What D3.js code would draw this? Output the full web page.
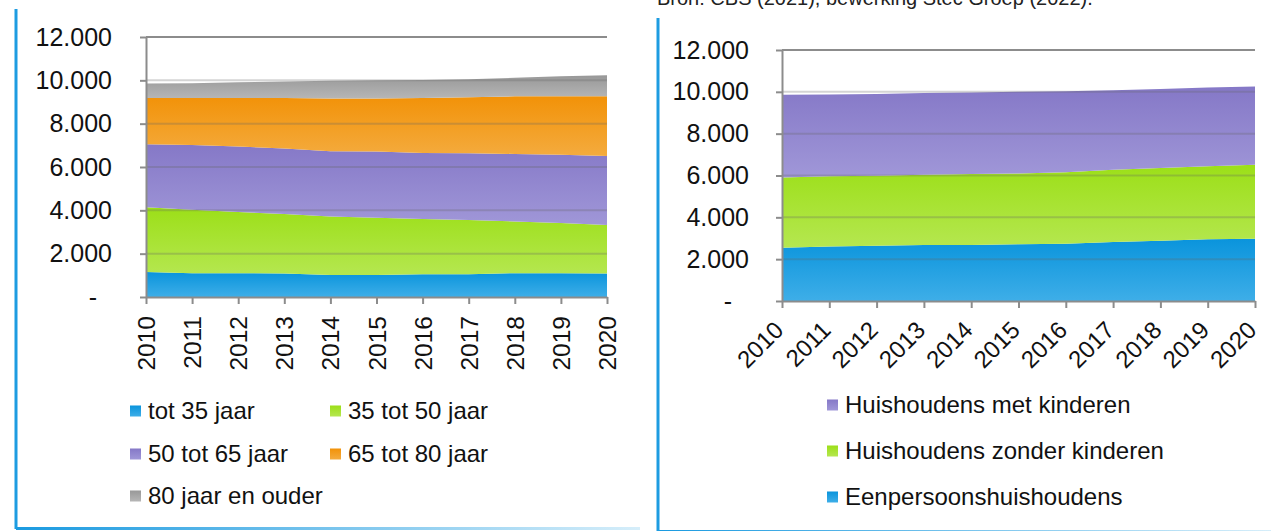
<!DOCTYPE html>
<html><head><meta charset="utf-8">
<script src="https://cdn.jsdelivr.net/npm/d3@7"></script>
<style>
html,body{margin:0;padding:0;background:#fff;}
svg{display:block;font-family:"Liberation Sans",Arial,sans-serif;}
</style></head>
<body>
<svg id="c" width="1271" height="531"></svg>
<script>
// ---- data ----
const years = ["2010","2011","2012","2013","2014","2015","2016","2017","2018","2019","2020"];
const yTicks = [0,2000,4000,6000,8000,10000,12000];
const yTickLabels = ["-","2.000","4.000","6.000","8.000","10.000","12.000"];

// left chart: age groups
const ageNames = ["tot 35 jaar","35 tot 50 jaar","50 tot 65 jaar","65 tot 80 jaar","80 jaar en ouder"];
const age35 = [1150,1100,1100,1080,1010,1010,1050,1050,1100,1100,1090];
const age35_50 = [2990,2930,2820,2750,2710,2650,2550,2500,2390,2310,2230];
const age50_65 = [2910,2990,3030,3020,3010,3050,3050,3090,3110,3150,3190];
const age65_80 = [2140,2160,2240,2330,2430,2450,2530,2580,2660,2710,2760];
const age80 = [660,680,720,770,820,840,840,830,860,920,960];

// right chart: household types
const hhNames = ["Eenpersoonshuishoudens","Huishoudens zonder kinderen","Huishoudens met kinderen"];
const hhSingle = [2550,2600,2640,2680,2680,2710,2740,2820,2880,2950,2980];
const hhNoKids = [3360,3360,3350,3360,3390,3390,3410,3460,3480,3490,3530];
const hhKids = [3950,3910,3910,3900,3900,3900,3880,3800,3780,3770,3740];

const sourceText = "Bron: CBS (2021), bewerking Stec Groep (2022).";

// ---- styles ----
const grads = {
  blue:["#0a94dc","#3eaee8"],
  green:["#9cdf18","#b5e750"],
  purple:["#8578c7","#a097d8"],
  orange:["#f29208","#f4ab3e"],
  gray:["#989898","#b6b6b6"]
};
const svg = d3.select("#c");
const defs = svg.append("defs");
Object.entries(grads).forEach(([k,[a,b]])=>{
  const g = defs.append("linearGradient").attr("id","g_"+k).attr("x1",0).attr("y1",0).attr("x2",0).attr("y2",1);
  g.append("stop").attr("offset","0%").attr("stop-color",a);
  g.append("stop").attr("offset","100%").attr("stop-color",b);
});
function hgrad(id,c1,c2){
  const g = defs.append("linearGradient").attr("id",id).attr("x1",0).attr("y1",0).attr("x2",1).attr("y2",0);
  g.append("stop").attr("offset","0%").attr("stop-color",c1);
  g.append("stop").attr("offset","100%").attr("stop-color",c2);
}
hgrad("bTop","#6cc3ee","#ffffff");
hgrad("bBot","#1a9ae0","#d6eefa");

// panel borders
function panel(x0,y0,x1,y1){
  svg.append("line").attr("x1",x0).attr("x2",x1).attr("y1",y0).attr("y2",y0).attr("stroke","url(#bTop)").attr("stroke-width",2);
  svg.append("rect").attr("x",x0).attr("y",y1-2).attr("width",x1-x0).attr("height",3).attr("fill","url(#bBot)");
  svg.append("line").attr("x1",x0).attr("x2",x0).attr("y1",y0).attr("y2",y1).attr("stroke","#1d9ce1").attr("stroke-width",3);
}
panel(16,9,640,529);
panel(658,18,1271,532);

svg.append("text").attr("x",657).attr("y",5).attr("font-size",20).attr("fill","#222").text(sourceText);

function chart(cfg){
  const x = d3.scalePoint().domain(years).range([cfg.x0,cfg.x1]);
  const y = d3.scaleLinear().domain([0,12000]).range([cfg.y0,cfg.y1]);
  const rows = years.map((yr,i)=>{const o={year:yr}; cfg.series.forEach(s=>o[s.name]=s.values[i]); return o;});
  const stack = d3.stack().keys(cfg.series.map(s=>s.name))(rows);
  const area = d3.area().x(d=>x(d.data.year)).y0(d=>y(d[0])).y1(d=>y(d[1]));
  const g = svg.append("g");
  g.selectAll("path.a").data(stack).join("path").attr("class","a")
    .attr("d",area).attr("fill",(d,i)=>"url(#g_"+cfg.series[i].color+")");
  // gridlines
  g.selectAll("line.gr").data(yTicks.slice(1,-1)).join("line")
    .attr("x1",cfg.x0).attr("x2",cfg.x1).attr("y1",d=>y(d)).attr("y2",d=>y(d))
    .attr("stroke","#666").attr("stroke-opacity",0.28).attr("stroke-width",2);
  g.append("line").attr("x1",cfg.x0).attr("x2",cfg.x1).attr("y1",y(12000)).attr("y2",y(12000))
    .attr("stroke","#8c8c8c").attr("stroke-width",2);
  // y axis
  const ya = d3.axisLeft(y).tickValues(yTicks).tickSize(6).tickSizeOuter(0)
    .tickFormat((d,i)=>yTickLabels[i]);
  const yg = g.append("g").attr("transform",`translate(${cfg.x0},0)`).call(ya);
  yg.select(".domain").attr("stroke","#8c8c8c").attr("stroke-width",2);
  yg.selectAll(".tick line").attr("stroke","#8c8c8c").attr("stroke-width",2);
  yg.selectAll(".tick text").attr("font-size",25).attr("fill","#111")
    .attr("font-family","'Liberation Sans',Arial,sans-serif")
    .attr("x",-cfg.yLabelGap)
    .each(function(d){ if(d===0) d3.select(this).attr("x",-cfg.dashX); });
  // x axis
  const xa = d3.axisBottom(x).tickSize(7).tickSizeOuter(0);
  const xg = g.append("g").attr("transform",`translate(0,${cfg.y0})`).call(xa);
  xg.select(".domain").attr("stroke","#8c8c8c").attr("stroke-width",2);
  xg.selectAll(".tick line").attr("stroke","#8c8c8c").attr("stroke-width",2);
  const xt = xg.selectAll(".tick text").attr("font-size",cfg.xFont).attr("fill","#111")
    .attr("font-family","'Liberation Sans',Arial,sans-serif");
  if(cfg.rot===90){
    xt.attr("transform","rotate(-90)").attr("text-anchor","end").attr("x",-19).attr("y",0).attr("dy","0.35em");
  } else {
    xt.attr("transform","rotate(-45)").attr("text-anchor","end").attr("x",-20).attr("y",15).attr("dy","0.35em");
  }
  // legend
  cfg.legend.forEach(it=>{
    const s = cfg.series.find(q=>q.name===it.name);
    g.append("rect").attr("x",it.x).attr("y",it.y-5.5).attr("width",11).attr("height",11).attr("fill","url(#g_"+s.color+")");
    g.append("text").attr("x",it.x+18).attr("y",it.y).attr("dy","0.35em").attr("font-size",cfg.legFont).attr("fill","#111").text(it.name);
  });
}

chart({
  x0:146,x1:607,y0:297,y1:37,yLabelGap:34,dashX:49,xFont:24.5,rot:90,legFont:24,
  series:[
    {name:ageNames[0],values:age35,color:"blue"},
    {name:ageNames[1],values:age35_50,color:"green"},
    {name:ageNames[2],values:age50_65,color:"purple"},
    {name:ageNames[3],values:age65_80,color:"orange"},
    {name:ageNames[4],values:age80,color:"gray"}
  ],
  legend:[
    {name:ageNames[0],x:130,y:411},{name:ageNames[1],x:330,y:411},
    {name:ageNames[2],x:130,y:454},{name:ageNames[3],x:330,y:454},
    {name:ageNames[4],x:130,y:496}
  ]
});

chart({
  x0:782,x1:1255,y0:301,y1:50,yLabelGap:33,dashX:50,xFont:24,rot:45,legFont:24,
  series:[
    {name:hhNames[0],values:hhSingle,color:"blue"},
    {name:hhNames[1],values:hhNoKids,color:"green"},
    {name:hhNames[2],values:hhKids,color:"purple"}
  ],
  legend:[
    {name:hhNames[2],x:827,y:405},
    {name:hhNames[1],x:827,y:451},
    {name:hhNames[0],x:827,y:497}
  ]
});
</script>
</body></html>
